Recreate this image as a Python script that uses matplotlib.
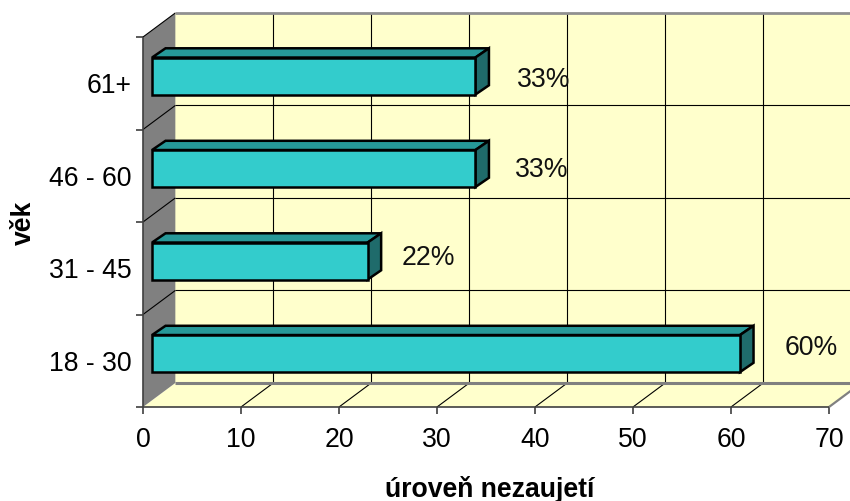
#!/usr/bin/env python

import matplotlib
matplotlib.use("Agg")
import matplotlib.pyplot as plt
from matplotlib.patches import Polygon

plt.rcParams["font.family"] = ["Liberation Sans", "DejaVu Sans"]

# Survey values
age_groups = ["18 - 30", "31 - 45", "46 - 60", "61+"]
values = [60, 22, 33, 33]
value_labels = ["60%", "22%", "33%", "33%"]
x_ticks = [0, 10, 20, 30, 40, 50, 60, 70]

WIDTH, HEIGHT = 850, 502

# Depth of the box and of the bars, in data units
DEPTH_X, DEPTH_Y = 3.3, 0.26
BAR_START, BAR_HEIGHT, BAR_BOTTOM = 0.92, 0.40, 0.378
BAR_DX, BAR_DY = 1.38, 0.10

WALL = "#ffffcc"
SIDE = "#808080"
BAR_FRONT = "#33cccc"
BAR_TOP = "#269999"
BAR_SIDE = "#1f6b6b"

fig = plt.figure(figsize=(WIDTH / 100, HEIGHT / 100), dpi=100)
ax = fig.add_axes([143 / WIDTH, 1 - 408 / HEIGHT, 686 / WIDTH, 370 / HEIGHT])
ax.set_xlim(0, 70)
ax.set_ylim(0, 4)
for spine in ax.spines.values():
    spine.set_visible(False)
ax.patch.set_visible(False)

top = 4 + DEPTH_Y
far = 70 + DEPTH_X


def poly(points, face, edge="none", lw=0.0, z=1):
    ax.add_patch(Polygon(points, closed=True, facecolor=face, edgecolor=edge,
                         linewidth=lw, zorder=z, clip_on=False, joinstyle="miter"))


def line(xs, ys, color="black", lw=0.8, z=2):
    ax.plot(xs, ys, color=color, lw=lw, zorder=z, clip_on=False,
            solid_capstyle="butt")


# Back wall, floor and left side of the box
poly([(DEPTH_X, DEPTH_Y), (far, DEPTH_Y), (far, top), (DEPTH_X, top)], WALL)
poly([(0, 0), (70, 0), (far, DEPTH_Y), (DEPTH_X, DEPTH_Y)], WALL)
poly([(0, 0), (DEPTH_X, DEPTH_Y), (DEPTH_X, top), (0, 4)], SIDE)

# Grid lines
for tick in x_ticks[1:]:
    if tick < 70:
        line([tick, tick + DEPTH_X], [0, DEPTH_Y])
    line([tick + DEPTH_X] * 2, [DEPTH_Y, top])
for level in range(1, 4):
    line([0, DEPTH_X], [level, level + DEPTH_Y])
    line([DEPTH_X, far], [level + DEPTH_Y] * 2)
line([0, DEPTH_X], [4, top])

# Box outline
line([DEPTH_X, far], [top, top], color="#909090", lw=2.0, z=3)
line([DEPTH_X, far], [DEPTH_Y, DEPTH_Y], color=SIDE, lw=2.2, z=3)
line([70, far], [0, DEPTH_Y], color=SIDE, lw=1.6, z=3)
line([0, 70], [0, 0], color="#404040", lw=1.2, z=3)
line([0, 0], [0, 4], color="#404040", lw=1.2, z=3)

# Bars with their top and end faces
for i, value in enumerate(values):
    y0 = i + BAR_BOTTOM
    y1 = y0 + BAR_HEIGHT
    x0 = BAR_START
    x1 = BAR_START + value
    poly([(x0, y1), (x1, y1), (x1 + BAR_DX, y1 + BAR_DY), (x0 + BAR_DX, y1 + BAR_DY)],
         BAR_TOP, "black", 1.8, 4)
    poly([(x1, y0), (x1 + BAR_DX, y0 + BAR_DY), (x1 + BAR_DX, y1 + BAR_DY), (x1, y1)],
         BAR_SIDE, "black", 1.8, 4)
    poly([(x0, y0), (x1, y0), (x1, y1), (x0, y1)], BAR_FRONT, "black", 1.8, 5)

# Value labels sit a little right of each bar end
label_x = [68.2, 29.1, 40.7, 40.9]
label_y = [0.65, 1.62, 2.57, 3.55]
for x, y, text in zip(label_x, label_y, value_labels):
    ax.text(x, y, text, fontsize=19.2, ha="center", va="center", zorder=6, color="#111111")

ax.set_xticks(x_ticks)
ax.set_yticks([0, 1, 2, 3, 4])
ax.set_yticks([0.51, 1.51, 2.51, 3.51], minor=True)
ax.set_yticklabels([])
ax.set_yticklabels(age_groups, minor=True)
ax.tick_params(axis="both", which="major", length=5, width=1.2, color="#404040",
               labelsize=19.2, pad=9)
ax.tick_params(axis="y", which="minor", length=0, labelsize=19.2, pad=8)

fig.text(11 / WIDTH, 1 - 223 / HEIGHT, "věk", rotation=90, fontsize=19.2, fontweight="bold",
         ha="left", va="center")
fig.text(490 / WIDTH, 1 - 490 / HEIGHT, "úroveň nezaujetí", fontsize=19.2, fontweight="bold",
         ha="center", va="center")

fig.savefig("out.png", dpi=100)
